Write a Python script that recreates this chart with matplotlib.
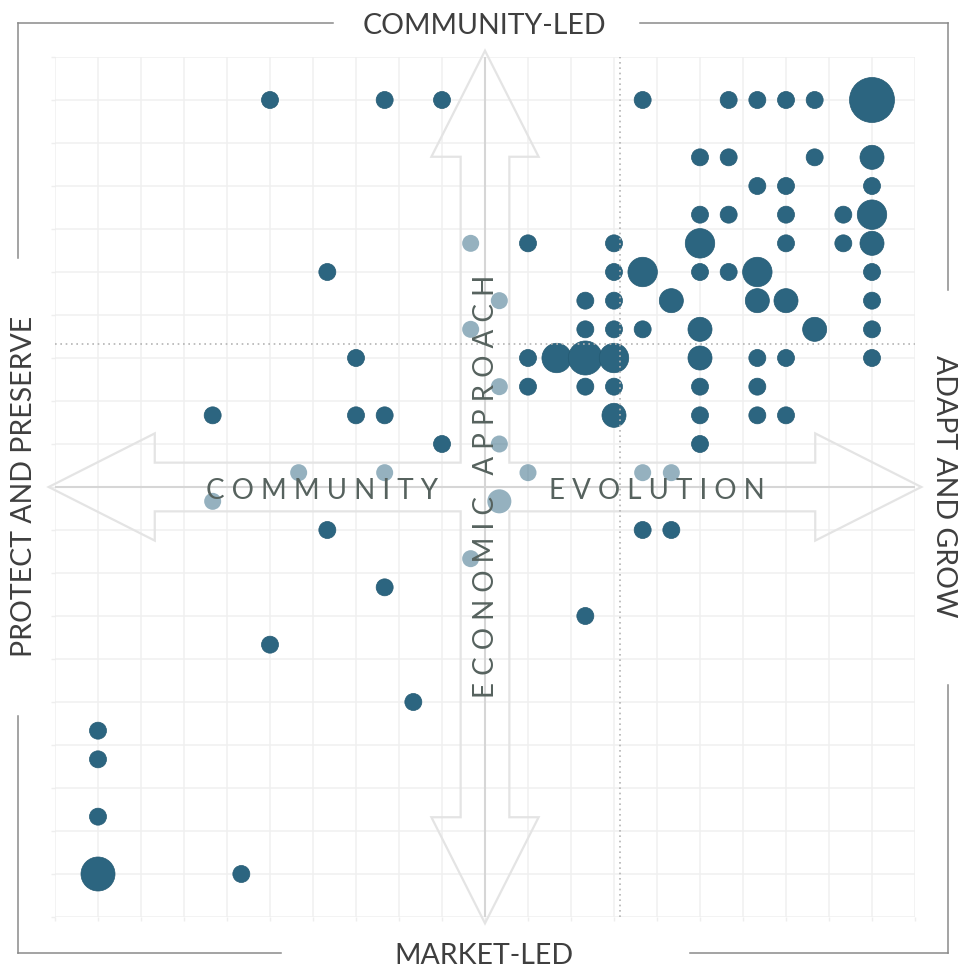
import numpy as np
import matplotlib
matplotlib.use("Agg")
import matplotlib.pyplot as plt
from matplotlib.patches import Polygon
from matplotlib.lines import Line2D

# --- data: one entry per bubble (x score, y score, number of items, muted) ---
pts_x = [-7.5, -3.5, -1.5, 5.5, 8.5, 9.5, 10.5, 11.5, 13.5,
         7.5, 8.5, 11.5, 13.5,
         9.5, 10.5, 13.5,
         7.5, 8.5, 10.5, 12.5, 13.5,
         -0.5, 1.5, 4.5, 7.5, 10.5, 12.5, 13.5,
         -5.5, 4.5, 5.5, 7.5, 8.5, 9.5, 13.5,
         0.5, 3.5, 4.5, 6.5, 9.5, 10.5, 13.5,
         -0.5, 3.5, 4.5, 5.5, 7.5, 11.5, 13.5,
         -4.5, 1.5, 2.5, 3.5, 4.5, 7.5, 9.5, 10.5, 13.5,
         0.5, 1.5, 3.5, 4.5, 7.5, 9.5,
         -9.5, -4.5, -3.5, 4.5, 7.5, 9.5, 10.5,
         -1.5, 0.5, 7.5,
         -6.5, -3.5, 1.5, 5.5, 6.5,
         -9.5, 0.5,
         -5.5, 5.5, 6.5,
         -0.5,
         -3.5,
         3.5,
         -7.5,
         -2.5,
         -13.5,
         -13.5,
         -13.5,
         -13.5, -8.5]
pts_y = [13.5] * 9 + [11.5] * 4 + [10.5] * 3 + [9.5] * 5 + [8.5] * 7 + \
        [7.5] * 7 + [6.5] * 7 + [5.5] * 7 + [4.5] * 9 + [3.5] * 6 + \
        [2.5] * 7 + [1.5] * 3 + [0.5] * 5 + [-0.5] * 2 + [-1.5] * 3 + \
        [-2.5] + [-3.5] + [-4.5] + [-5.5] + [-7.5] + [-8.5] + [-9.5] + \
        [-11.5] + [-13.5] * 2
pts_n = [1, 1, 1, 1, 1, 1, 1, 1, 7,
         1, 1, 1, 2,
         1, 1, 1,
         1, 1, 1, 1, 3,
         1, 1, 1, 3, 1, 1, 2,
         1, 1, 3, 1, 1, 3, 1,
         1, 1, 1, 2, 2, 2, 1,
         1, 1, 1, 1, 2, 2, 1,
         1, 1, 3, 4, 3, 2, 1, 1, 1,
         1, 1, 1, 1, 1, 1,
         1, 1, 1, 2, 1, 1, 1,
         1, 1, 1,
         1, 1, 1, 1, 1,
         1, 2,
         1, 1, 1,
         1,
         1,
         1,
         1,
         1,
         1,
         1,
         1,
         4, 1]
muted = [(-0.5, 8.5), (0.5, 6.5), (-0.5, 5.5), (0.5, 3.5), (0.5, 1.5),
         (-6.5, 0.5), (-3.5, 0.5), (1.5, 0.5), (5.5, 0.5), (6.5, 0.5),
         (-9.5, -0.5), (0.5, -0.5), (-0.5, -2.5)]
mean_x, mean_y = 4.7, 5.0

top_label = "COMMUNITY-LED"
bottom_label = "MARKET-LED"
left_label = "PROTECT AND PRESERVE"
right_label = "ADAPT AND GROW"
inner_left, inner_right, inner_vert = "COMMUNITY", "EVOLUTION", "ECONOMIC APPROACH"

W, H = 959, 969
DOT = "#2c6580"
FONT = ["Lato", "DejaVu Sans"]

fig = plt.figure(figsize=(W / 100, H / 100), dpi=100)
ax = fig.add_axes([55 / W, 1 - 917 / H, 860 / W, 860 / H])
ax.set_xlim(-15, 15)
ax.set_ylim(-15, 15)
ticks = np.arange(-15, 15.01, 1.5)
ax.set_xticks(ticks)
ax.set_yticks(ticks)
ax.tick_params(length=3, color="#eeeeee", width=1, labelbottom=False, labelleft=False)
ax.grid(True, color="#f0f0f0", lw=1.1)
ax.set_axisbelow(True)
for s in ax.spines.values():
    s.set_visible(False)

# cross shaped double arrows
T, B, Hh, S = 15.22, 11.52, 1.87, 0.85
cross = [(T, 0), (B, Hh), (B, S), (S, S), (S, B), (Hh, B), (0, T), (-Hh, B), (-S, B),
         (-S, S), (-B, S), (-B, Hh), (-T, 0), (-B, -Hh), (-B, -S), (-S, -S), (-S, -B),
         (-Hh, -B), (0, -T), (Hh, -B), (S, -B), (S, -S), (B, -S), (B, -Hh)]
ax.add_patch(Polygon(cross, closed=True, fill=False, ec="#e4e4e4", lw=1.6,
                     clip_on=False, zorder=1))
ax.plot([-15, 15], [0, 0], color="#d6d6d6", lw=1.5, zorder=1)
ax.plot([0, 0], [-15, 15], color="#d6d6d6", lw=1.5, zorder=1)

px = np.array(pts_x)
py = np.array(pts_y)
pn = np.array(pts_n)
mask = np.array([(x, y) in muted for x, y in zip(pts_x, pts_y)])
ax.scatter(px[~mask], py[~mask], s=150 * pn[~mask], color=DOT, ec="#245a73",
           lw=0.5, zorder=3)
ax.scatter(px[mask], py[mask], s=150 * pn[mask], color=DOT, alpha=0.5, lw=0, zorder=3)

ax.axvline(mean_x, color="#b4b4b4", lw=1.2, ls=(0, (1, 2.2)), zorder=4)
ax.axhline(mean_y, color="#b4b4b4", lw=1.2, ls=(0, (1, 2.2)), zorder=4)


def fx(p):
    return p / W


def fy(p):
    return 1 - p / H


# frame brackets around the outer labels
frame = [((18, 23), (333, 23)), ((640, 23), (948, 23)),
         ((18, 23), (18, 258)), ((18, 716), (18, 953)),
         ((948, 23), (948, 290)), ((948, 685), (948, 953)),
         ((18, 953), (281, 953)), ((690, 953), (948, 953))]
for (x0, y0), (x1, y1) in frame:
    fig.add_artist(Line2D([fx(x0), fx(x1)], [fy(y0), fy(y1)], color="#8a8a8a", lw=1.1))

outer = dict(fontsize=20.5, color="#3f3f3f", family=FONT, rotation_mode="anchor")
fig.text(fx(484), fy(33.5), top_label, ha="center", va="baseline", **outer)
fig.text(fx(484), fy(963.5), bottom_label, ha="center", va="baseline", **outer)
fig.text(fx(31.7), fy(486), left_label, ha="center", va="baseline", rotation=90, **outer)
fig.text(fx(936), fy(486), right_label, ha="center", va="baseline", rotation=270, **outer)

inner = dict(fontsize=20, color="#56625e", family=FONT, weight="normal",
             rotation_mode="anchor", zorder=5)
fig.text(fx(322), fy(499.3), " ".join(inner_left), ha="center", va="baseline", **inner)
fig.text(fx(657), fy(499.3), " ".join(inner_right), ha="center", va="baseline", **inner)
fig.text(fx(494), fy(486), " ".join(inner_vert), ha="center", va="baseline",
         rotation=90, **inner)

fig.savefig("out.png", dpi=100)
